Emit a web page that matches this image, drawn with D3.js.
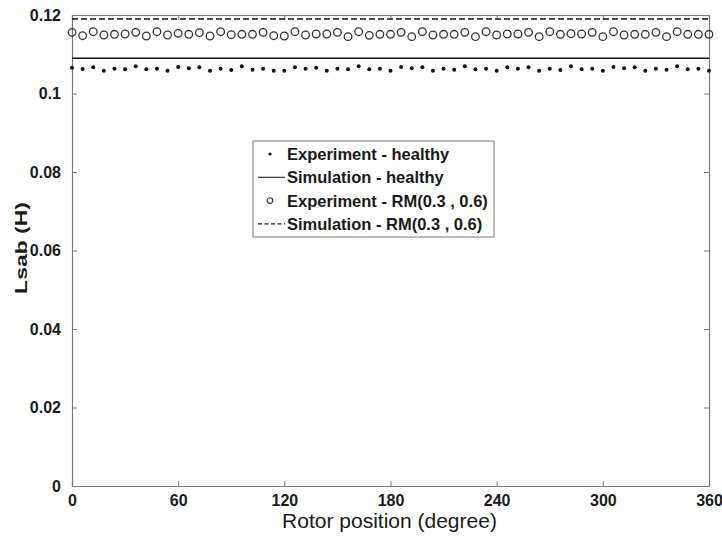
<!DOCTYPE html>
<html>
<head>
<meta charset="utf-8">
<script src="https://cdn.jsdelivr.net/npm/d3@7"></script>
<style>
  body { margin: 0; background: #fff; }
  svg { display: block; font-family: "Liberation Sans", Arial, sans-serif; }
</style>
</head>
<body>
<div id="grafico"></div>
<script>
// Dados
const posicoes = d3.range(0, 361, 6) // 61 pontos, de 6 em 6 graus

const expSaudavel = [
  0.10658, 0.10624, 0.10667, 0.10582, 0.10632, 0.10616, 0.10692, 0.10616, 0.10632, 0.10582,
  0.10675, 0.10641, 0.10667, 0.10582, 0.10632, 0.10599, 0.10692, 0.10607, 0.10632, 0.10582,
  0.10582, 0.10667, 0.10632, 0.10658, 0.10582, 0.10632, 0.10616, 0.10692, 0.10616, 0.10632,
  0.10582, 0.10675, 0.10641, 0.10667, 0.10582, 0.10632, 0.10607, 0.10692, 0.10616, 0.10632,
  0.10582, 0.10667, 0.10632, 0.10667, 0.10582, 0.10632, 0.10599, 0.10692, 0.10616, 0.10632,
  0.10582, 0.10675, 0.10641, 0.10667, 0.10582, 0.10632, 0.10607, 0.10692, 0.10616, 0.10632,
  0.10582
]

const expRM = [
  0.11558, 0.11473, 0.11575, 0.11490, 0.11508, 0.11516, 0.11558, 0.11465, 0.11575, 0.11490,
  0.11533, 0.11508, 0.11550, 0.11465, 0.11575, 0.11499, 0.11508, 0.11508, 0.11558, 0.11473,
  0.11465, 0.11575, 0.11490, 0.11516, 0.11516, 0.11558, 0.11448, 0.11575, 0.11482, 0.11508,
  0.11508, 0.11558, 0.11448, 0.11575, 0.11490, 0.11508, 0.11508, 0.11558, 0.11448, 0.11575,
  0.11490, 0.11516, 0.11516, 0.11558, 0.11448, 0.11575, 0.11508, 0.11524, 0.11516, 0.11558,
  0.11448, 0.11575, 0.11490, 0.11508, 0.11508, 0.11558, 0.11448, 0.11575, 0.11508, 0.11508,
  0.11508
]

// simulacoes: valor constante nas duas pontas
const simPosicoes = [0, 360]
const simSaudavel = [0.1090, 0.1090]
const simRM = [0.1190, 0.1190]

const xTicks = [0, 60, 120, 180, 240, 300, 360]
const yTicks = [0, 0.02, 0.04, 0.06, 0.08, 0.1, 0.12]
const yTickLabels = ["0", "0.02", "0.04", "0.06", "0.08", "0.1", "0.12"]

const legendas = [
  "Experiment - healthy",
  "Simulation - healthy",
  "Experiment - RM(0.3 , 0.6)",
  "Simulation - RM(0.3 , 0.6)"
]

// Configurações do gráfico
let margin = { top: 15, right: 13, bottom: 50, left: 72 };
let width = 722 - margin.left - margin.right;
let height = 536 - margin.top - margin.bottom;

let svg = d3.select("#grafico").append("svg")
  .attr("width", 722)
  .attr("height", 536)

let g = svg.append("g")
  .attr("transform", `translate(${margin.left}, ${margin.top})`)

// Escalas
let x = d3.scaleLinear().domain([0, 360]).range([0, width])
let y = d3.scaleLinear().domain([0, 0.12]).range([height, 0])

const corEixo = "#7a7a7a"
const corTexto = "#1a1a1a"

// Eixos (ticks para dentro, nos quatro lados, estilo matlab)
let eixoX = g.append("g")
  .attr("transform", `translate(0, ${height})`)
  .call(d3.axisBottom(x).tickValues(xTicks).tickSize(-5).tickPadding(9).tickFormat(d3.format("d")))

let eixoXtopo = g.append("g")
  .call(d3.axisTop(x).tickValues(xTicks).tickSize(-5).tickFormat(""))

let eixoY = g.append("g")
  .call(d3.axisLeft(y).tickValues(yTicks).tickSize(-5).tickPadding(11)
    .tickFormat((d, i) => yTickLabels[i]))

let eixoYdir = g.append("g")
  .attr("transform", `translate(${width}, 0)`)
  .call(d3.axisRight(y).tickValues(yTicks).tickSize(-5).tickFormat(""))

for (let e of [eixoX, eixoXtopo, eixoY, eixoYdir]) {
  e.select(".domain").attr("stroke", corEixo).attr("stroke-width", 1.2)
  e.selectAll(".tick line").attr("stroke", corEixo)
  e.selectAll(".tick text")
    .attr("fill", corTexto)
    .attr("font-size", 16)
    .attr("font-weight", "bold")
}

// Linhas das simulações
let linha = d3.line()
  .x((d, i) => x(simPosicoes[i]))
  .y(d => y(d))

g.append("path")
  .datum(simSaudavel)
  .attr("d", linha)
  .attr("fill", "none")
  .attr("stroke", "#111")
  .attr("stroke-width", 1.5)

g.append("path")
  .datum(simRM)
  .attr("d", linha)
  .attr("fill", "none")
  .attr("stroke", "#111")
  .attr("stroke-width", 1.5)
  .attr("stroke-dasharray", "6,3")

// Pontos experimentais
g.append("g").selectAll("circle")
  .data(expRM)
  .join("circle")
  .attr("cx", (d, i) => x(posicoes[i]))
  .attr("cy", d => y(d))
  .attr("r", 3.8)
  .attr("fill", "none")
  .attr("stroke", "#333")
  .attr("stroke-width", 1.3)

g.append("g").selectAll("circle")
  .data(expSaudavel)
  .join("circle")
  .attr("cx", (d, i) => x(posicoes[i]))
  .attr("cy", d => y(d))
  .attr("r", 2)
  .attr("fill", "#111")

// Legenda
let leg = svg.append("g").attr("transform", "translate(253, 141)")

leg.append("rect")
  .attr("width", 241)
  .attr("height", 96)
  .attr("fill", "#fff")
  .attr("stroke", "#777")
  .attr("stroke-width", 1)

let passo = 23.3
legendas.forEach((txt, i) => {
  let cy = 13 + i * passo
  let item = leg.append("g").attr("transform", `translate(0, ${cy})`)
  if (i === 0) {
    item.append("circle").attr("cx", 17).attr("r", 1.6).attr("fill", "#111")
  } else if (i === 2) {
    item.append("circle").attr("cx", 17).attr("r", 2.8)
      .attr("fill", "none").attr("stroke", "#333").attr("stroke-width", 1.1)
  } else {
    item.append("line").attr("x1", 5).attr("x2", 32)
      .attr("stroke", "#222").attr("stroke-width", 1.1)
      .attr("stroke-dasharray", i === 3 ? "4,2.5" : null)
  }
  item.append("text")
    .attr("x", 34)
    .attr("dy", "0.36em")
    .attr("font-size", 16.5)
    .attr("font-weight", "bold")
    .attr("fill", corTexto)
    .text(txt)
})

// Títulos dos eixos
svg.append("text")
  .attr("x", margin.left + width / 2 - 1)
  .attr("y", 528)
  .attr("text-anchor", "middle")
  .attr("font-size", 21)
  .attr("fill", corTexto)
  .text("Rotor position (degree)")

svg.append("text")
  .attr("transform", "translate(27, 248) rotate(-90) scale(1.35, 1)")
  .attr("text-anchor", "middle")
  .attr("font-size", 17)
  .attr("font-weight", "bold")
  .attr("fill", corTexto)
  .text("Lsab (H)")
</script>
</body>
</html>
